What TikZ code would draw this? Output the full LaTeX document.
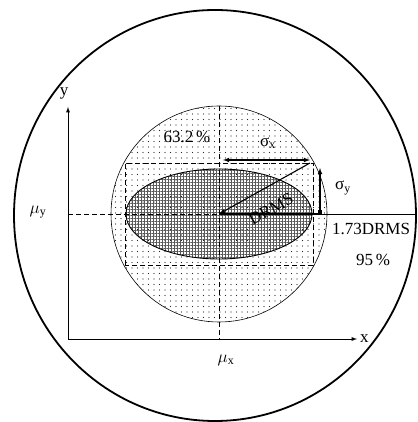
\documentclass[tikz,border=0pt]{standalone}
\usepackage{fontspec}
\setmainfont{Liberation Serif}
\usetikzlibrary{calc,positioning,patterns.meta}

\tikzset{
  axis/.style={->, line width=0.9pt},
  guide/.style={dash pattern=on 5pt off 3pt, line width=0.9pt},
  dim/.style={line width=1.1pt},
  lbl/.style={font=\fontsize{17}{19}\selectfont, inner sep=1pt},
}

\begin{document}
\begin{tikzpicture}[x=1pt,y=1pt,>=latex]
  \useasboundingbox (0,0) rectangle (417,422);
  \coordinate (O) at (219,208);
  \coordinate (orig) at (68,83);
  \coordinate (ytip) at (68,315);
  \coordinate (xtip) at (357,83);
  \coordinate (ymu) at (68,208);
  \coordinate (xmu) at (219,83);
  \coordinate (Otop) at (219,316);
  \coordinate (Rend) at (416,208);

  % outer circle
  \draw[line width=1.8pt] (215,206.5) ellipse [x radius=201, y radius=205.5];

  % DRMS circle and the error ellipse
  \draw[line width=0.6pt, pattern={Dots[distance=5.5pt, radius=0.65pt]}, pattern color=black!85] (O) circle (108);
  \draw[line width=0.9pt, pattern={Hatch[distance=3pt, line width=0.55pt]}, pattern color=black!65] (O) ellipse [x radius=93, y radius=45];
  \draw[guide] ($(O)+(-94,-51)$) rectangle ($(O)+(94,51)$);

  % axes
  \draw[axis] (orig) -- (ytip);
  \draw[axis] (orig) -- (xtip);
  \node[lbl] (ylab) at (64,329) {y};
  \node[lbl, right=2pt of xtip] (xlab) {x};

  \draw[guide] (ymu) -- (O);
  \draw[guide] (Otop) -- (xmu);

  % sigma_x, sigma_y and DRMS
  \coordinate (sxa) at ($(O)+(4,54)$);
  \coordinate (sxb) at ($(O)+(91,54)$);
  \draw[dim, <->] (sxa) -- (sxb);
  \node[fill, inner sep=0pt, minimum size=4pt] (syb) at ($(O)+(101,2)$) {};
  \coordinate (syt) at ($(O)+(101,46)$);
  \draw[dim, ->] (syb) -- (syt);
  \coordinate (corner) at ($(O)+(91,51)$);
  \draw[dim, <-] (O) -- (corner);
  \coordinate (Rmid) at ($(O)+(101,0)$);
  \draw[dim] (O) -- (Rmid);
  \draw[line width=0.8pt] (Rmid) -- (Rend);

  \node[lbl, rotate=29] (drmslab) at ($(O)+(52,5)$) {DRMS};
  \node[lbl] (sxlab) at (268,279) {σ\textsubscript{x}};
  \node[lbl] (sylab) at (343,234) {σ\textsubscript{y}};
  \node[lbl] (inlab) at (187,285) {63.2\,\%};
  \node[lbl] (drlab) at (371,193) {1.73DRMS};
  \node[lbl] (outlab) at (373,162) {95\,\%};
  \node[lbl] (muylab) at (38,210) {$\mu$\textsubscript{y}};
  \node[lbl] (muxlab) at (226,62) {$\mu$\textsubscript{x}};
\end{tikzpicture}
\end{document}
